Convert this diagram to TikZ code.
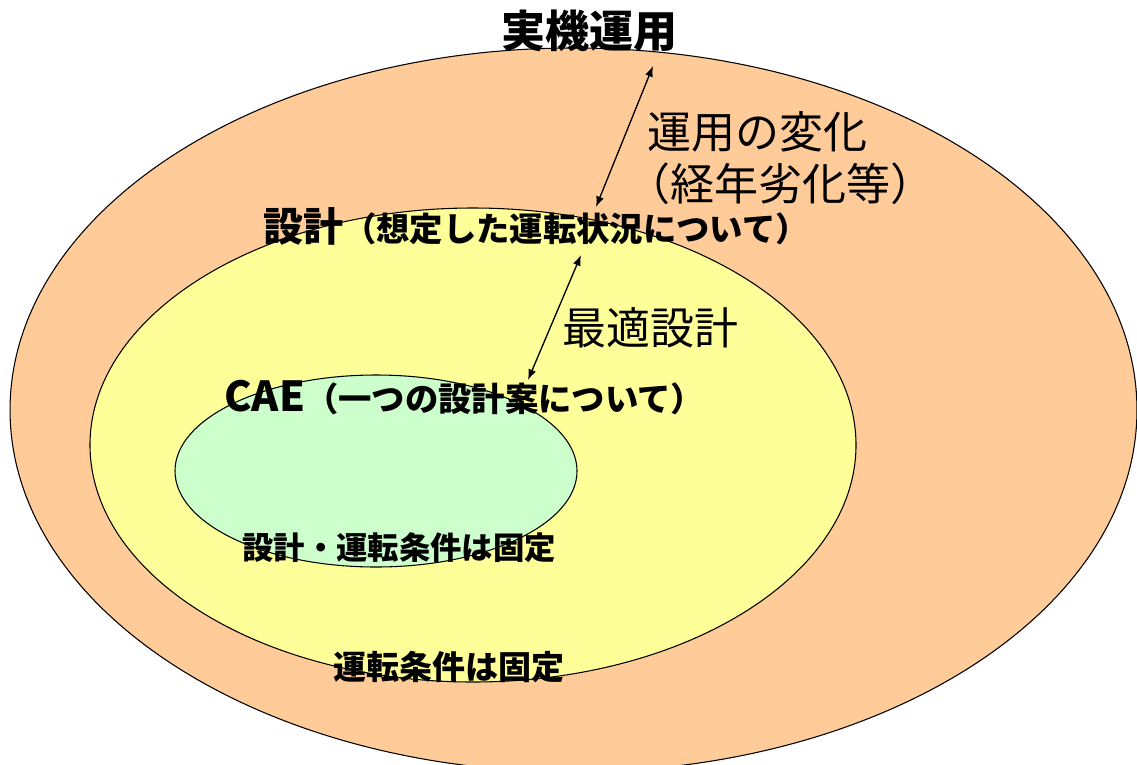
\documentclass[tikz,border=0pt]{standalone}
\usepackage{fontspec}
\setmainfont{Noto Sans CJK JP}
\usetikzlibrary{arrows.meta}
\definecolor{peach}{HTML}{FFCC99}
\definecolor{paleyellow}{HTML}{FFFF99}
\definecolor{palegreen}{HTML}{CCFFCC}
\tikzset{
  ring/.style={draw=black, line width=0.8pt},
  lbl/.style={inner sep=0pt, text=black},
  dblarrow/.style={{Latex[length=8pt,width=6pt]}-{Latex[length=8pt,width=6pt]}, line width=1pt}
}
\newcommand{\fs}[1]{\fontsize{#1}{#1}\selectfont}
\begin{document}
\begin{tikzpicture}[x=0.75pt,y=-0.75pt]
\useasboundingbox (0,0) rectangle (1137,764);
\clip (0,0) rectangle (1137,764);
\fill[white] (0,0) rectangle (1137,764);
% ellipses
\draw[ring, fill=peach] (573.5,410) ellipse [x radius=422.6pt, y radius=271.5pt];
\draw[ring, fill=paleyellow] (473,445) ellipse [x radius=287.25pt, y radius=177.75pt];
\draw[ring, fill=palegreen] (376,471) ellipse [x radius=150.75pt, y radius=72pt];
% labels
\node[lbl] (jikki) at (589,31) {\fs{33}\bfseries 実機運用};
\node[lbl] (henka1) at (757,132) {\fs{33}運用の変化};
\node[lbl] (henka2) at (780,184) {\fs{33}（経年劣化等）};
\node[lbl, anchor=base west] (sekkei) at (263,241) {\bfseries{\fs{30}設計}{\fs{25}（想定した運転状況について）}};
\node[lbl] (saiteki) at (650,328) {\fs{33}最適設計};
\node[lbl, anchor=base west] (cae) at (224,411) {\bfseries{\fs{31}CAE}{\fs{25}（一つの設計案について）}};
\node[lbl] (kotei1) at (399,548) {\fs{23.5}\bfseries 設計・運転条件は固定};
\node[lbl] (kotei2) at (449,667) {\fs{24.75}\bfseries 運転条件は固定};
% arrows
\coordinate (a1top) at (653,66);
\coordinate (a1bot) at (596,207);
\coordinate (a2top) at (581,255);
\coordinate (a2bot) at (528,380);
\draw[dblarrow] (a1top) -- (a1bot);
\draw[dblarrow] (a2top) -- (a2bot);
\end{tikzpicture}
\end{document}
